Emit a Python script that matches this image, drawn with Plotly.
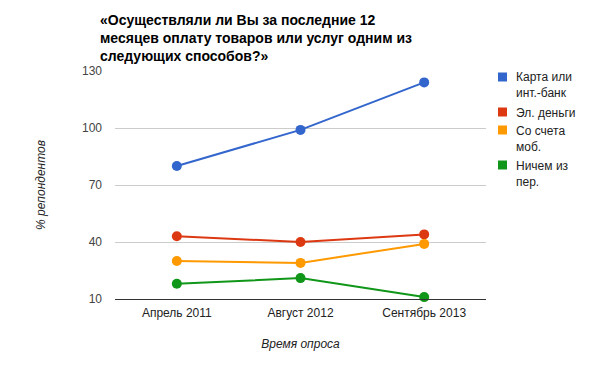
import plotly.graph_objects as go

categories = ["Апрель 2011", "Август 2012", "Сентябрь 2013"]
series_names = ["Карта или<br>инт.-банк", "Эл. деньги", "Со счета<br>моб.", "Ничем из<br>пер."]
card = [80, 99, 124]
emoney = [43, 40, 44]
mobile = [30, 29, 39]
none_ = [18, 21, 11]
series_values = [card, emoney, mobile, none_]
colors = ["#3366cc", "#dc3912", "#ff9900", "#109618"]
y_ticks = [10, 40, 70, 100, 130]

W, H = 600, 371
L, R, T, B = 115, 114, 71, 72
pw, ph = W - L - R, H - T - B

def px(x):
    return (x - L) / pw

def py(y):
    return (H - B - y) / ph

font = "Liberation Sans, Arial, sans-serif"
fig = go.Figure()
for name, vals, c in zip(series_names, series_values, colors):
    fig.add_trace(go.Scatter(
        x=categories, y=vals, mode="lines+markers", name=name,
        line=dict(color=c, width=2), marker=dict(color=c, size=10),
        showlegend=False, cliponaxis=False,
    ))

# custom legend
legend_tops = [77, 112, 130, 165]
shapes = []
annotations = []
for name, c, yc in zip(series_names, colors, legend_tops):
    shapes.append(dict(type="rect", xref="paper", yref="paper",
                       x0=px(498), x1=px(507), y0=py(yc - 4.5), y1=py(yc + 4.5),
                       fillcolor=c, line=dict(width=0)))
    annotations.append(dict(text=name, xref="paper", yref="paper",
                            x=px(514), y=py(yc - 8.5), xanchor="left", yanchor="top",
                            align="left", showarrow=False,
                            font=dict(family=font, size=12, color="#222222")))

fig.update_layout(
    width=W, height=H,
    margin=dict(l=L, r=R, t=T, b=B),
    paper_bgcolor="white", plot_bgcolor="white",
    font=dict(family=font, size=12, color="#444444"),
    title=dict(
        text="«Осуществляли ли Вы за последние 12<br>месяцев оплату товаров или услуг одним из<br>следующих способов?»",
        x=100 / W, xanchor="left", xref="container",
        y=1 - 25 / H, yanchor="top", yref="container",
        font=dict(family=font, size=14, color="#000000", weight=700),
    ),
    xaxis=dict(
        type="category", range=[-0.5, 2.5], showgrid=False,
        showline=True, linecolor="#333333", linewidth=1,
        ticks="", ticklabelstandoff=3, tickfont=dict(size=12, color="#222222"),
        title=dict(text="Время опроса", standoff=20,
                   font=dict(size=12, color="#222222", style="italic")),
    ),
    yaxis=dict(
        range=[10, 130], tickvals=y_ticks, showgrid=True, gridcolor="#cccccc",
        zeroline=False, showline=False, ticks="", ticklabelstandoff=12,
        tickfont=dict(size=12, color="#444444"),
        title=dict(text="% репондентов", standoff=33,
                   font=dict(size=12, color="#222222", style="italic")),
    ),
    shapes=shapes, annotations=annotations,
)

fig.write_html("out.html", config={"displayModeBar": False},
               post_script="document.body.style.margin='0';")
